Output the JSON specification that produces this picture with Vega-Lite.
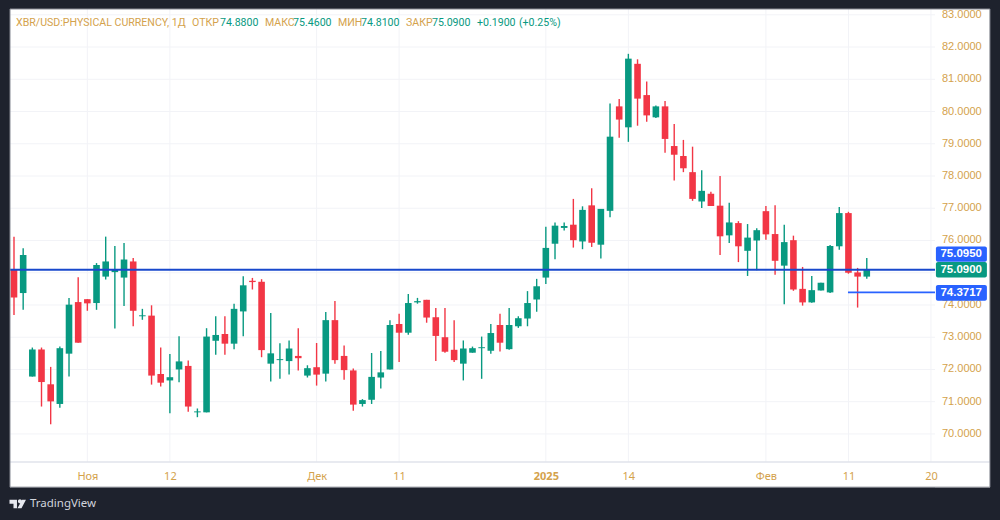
{
  "$schema": "https://vega.github.io/schema/vega-lite/v6.json",
  "width": 925,
  "height": 453,
  "autosize": "none",
  "padding": {"left": 10, "top": 9, "right": 65, "bottom": 58},
  "background": "#1e222d",
  "config": {
    "view": {"fill": "#ffffff", "stroke": null},
    "text": {"font": "Roboto", "fontSize": 10.6}
  },
  "datasets": {
    "candles": [
      {"bar":0,"open":75.09,"high":76.12,"low":73.69,"close":74.23},
      {"bar":1,"open":74.37,"high":75.76,"low":73.85,"close":75.55},
      {"bar":2,"open":71.78,"high":72.68,"low":71.78,"close":72.62},
      {"bar":3,"open":72.62,"high":72.68,"low":70.85,"close":71.61},
      {"bar":4,"open":71.54,"high":72.08,"low":70.30,"close":71.01},
      {"bar":5,"open":70.93,"high":72.71,"low":70.81,"close":72.66},
      {"bar":6,"open":72.49,"high":74.22,"low":71.78,"close":74.01},
      {"bar":7,"open":74.09,"high":74.86,"low":72.83,"close":72.83},
      {"bar":8,"open":74.18,"high":74.18,"low":73.82,"close":74.05},
      {"bar":9,"open":74.06,"high":75.30,"low":73.85,"close":75.24},
      {"bar":10,"open":74.88,"high":76.12,"low":74.79,"close":75.35},
      {"bar":11,"open":75.02,"high":75.83,"low":73.27,"close":75.09},
      {"bar":12,"open":74.85,"high":75.92,"low":73.97,"close":75.41},
      {"bar":13,"open":75.35,"high":75.46,"low":73.34,"close":73.82},
      {"bar":14,"open":73.65,"high":73.88,"low":73.54,"close":73.68},
      {"bar":15,"open":73.67,"high":73.99,"low":71.53,"close":71.81},
      {"bar":16,"open":71.86,"high":72.68,"low":71.47,"close":71.59},
      {"bar":17,"open":71.66,"high":72.48,"low":70.64,"close":71.76},
      {"bar":18,"open":72.00,"high":73.03,"low":71.60,"close":72.25},
      {"bar":19,"open":72.11,"high":72.28,"low":70.69,"close":70.85},
      {"bar":20,"open":70.67,"high":70.79,"low":70.52,"close":70.70},
      {"bar":21,"open":70.67,"high":73.28,"low":70.67,"close":73.02},
      {"bar":22,"open":72.89,"high":73.65,"low":72.46,"close":73.07},
      {"bar":23,"open":73.10,"high":73.65,"low":72.46,"close":72.80},
      {"bar":24,"open":72.80,"high":74.04,"low":72.63,"close":73.88},
      {"bar":25,"open":73.80,"high":74.89,"low":73.03,"close":74.61},
      {"bar":26,"open":74.75,"high":74.84,"low":74.48,"close":74.71},
      {"bar":27,"open":74.72,"high":74.80,"low":72.38,"close":72.60},
      {"bar":28,"open":72.18,"high":73.75,"low":71.63,"close":72.50},
      {"bar":29,"open":72.29,"high":72.81,"low":71.71,"close":72.32},
      {"bar":30,"open":72.26,"high":72.90,"low":71.84,"close":72.65},
      {"bar":31,"open":72.42,"high":73.28,"low":71.97,"close":72.35},
      {"bar":32,"open":71.81,"high":72.13,"low":71.75,"close":72.04},
      {"bar":33,"open":72.07,"high":72.82,"low":71.50,"close":71.84},
      {"bar":34,"open":71.87,"high":73.78,"low":71.63,"close":73.53},
      {"bar":35,"open":73.53,"high":74.12,"low":72.18,"close":72.29},
      {"bar":36,"open":72.42,"high":72.74,"low":71.68,"close":71.98},
      {"bar":37,"open":71.97,"high":72.03,"low":70.72,"close":70.91},
      {"bar":38,"open":70.93,"high":71.08,"low":70.85,"close":71.05},
      {"bar":39,"open":71.06,"high":72.51,"low":70.93,"close":71.77},
      {"bar":40,"open":71.75,"high":72.57,"low":71.41,"close":71.91},
      {"bar":41,"open":72.00,"high":73.53,"low":72.00,"close":73.38},
      {"bar":42,"open":73.41,"high":73.73,"low":72.23,"close":73.14},
      {"bar":43,"open":73.14,"high":74.34,"low":73.08,"close":74.06},
      {"bar":44,"open":74.08,"high":74.22,"low":74.04,"close":74.12},
      {"bar":45,"open":74.16,"high":74.16,"low":73.45,"close":73.61},
      {"bar":46,"open":73.62,"high":73.91,"low":72.26,"close":73.04},
      {"bar":47,"open":73.00,"high":73.91,"low":72.52,"close":72.55},
      {"bar":48,"open":72.61,"high":73.53,"low":72.23,"close":72.29},
      {"bar":49,"open":72.18,"high":72.90,"low":71.66,"close":72.65},
      {"bar":50,"open":72.52,"high":72.71,"low":72.52,"close":72.66},
      {"bar":51,"open":72.66,"high":73.02,"low":71.71,"close":72.69},
      {"bar":52,"open":72.58,"high":73.41,"low":72.49,"close":73.13},
      {"bar":53,"open":73.38,"high":73.73,"low":72.56,"close":72.83},
      {"bar":54,"open":72.63,"high":73.91,"low":72.61,"close":73.38},
      {"bar":55,"open":73.34,"high":73.65,"low":73.29,"close":73.59},
      {"bar":56,"open":73.58,"high":74.43,"low":73.34,"close":74.06},
      {"bar":57,"open":74.17,"high":74.81,"low":73.79,"close":74.58},
      {"bar":58,"open":74.85,"high":76.43,"low":74.65,"close":75.77},
      {"bar":59,"open":75.90,"high":76.56,"low":75.42,"close":76.46},
      {"bar":60,"open":76.39,"high":76.56,"low":76.31,"close":76.45},
      {"bar":61,"open":76.49,"high":77.29,"low":75.78,"close":76.01},
      {"bar":62,"open":75.97,"high":77.06,"low":75.73,"close":76.95},
      {"bar":63,"open":77.09,"high":77.62,"low":75.80,"close":75.93},
      {"bar":64,"open":75.87,"high":76.98,"low":75.44,"close":76.98},
      {"bar":65,"open":76.92,"high":80.25,"low":76.72,"close":79.22},
      {"bar":66,"open":80.16,"high":80.39,"low":79.19,"close":79.75},
      {"bar":67,"open":79.51,"high":81.79,"low":79.06,"close":81.64},
      {"bar":68,"open":81.48,"high":81.62,"low":79.56,"close":80.40},
      {"bar":69,"open":80.51,"high":80.93,"low":79.68,"close":79.88},
      {"bar":70,"open":79.82,"high":80.19,"low":79.80,"close":80.16},
      {"bar":71,"open":80.16,"high":80.33,"low":78.72,"close":79.15},
      {"bar":72,"open":78.93,"high":79.61,"low":77.86,"close":78.66},
      {"bar":73,"open":78.62,"high":79.12,"low":78.12,"close":78.24},
      {"bar":74,"open":78.12,"high":78.91,"low":77.23,"close":77.29},
      {"bar":75,"open":77.21,"high":78.18,"low":77.01,"close":77.54},
      {"bar":76,"open":77.45,"high":77.51,"low":77.07,"close":77.07},
      {"bar":77,"open":77.08,"high":78.00,"low":75.55,"close":76.13},
      {"bar":78,"open":76.16,"high":77.17,"low":75.92,"close":76.56},
      {"bar":79,"open":76.54,"high":76.60,"low":75.33,"close":75.82},
      {"bar":80,"open":75.68,"high":76.51,"low":74.90,"close":76.09},
      {"bar":81,"open":76.00,"high":76.38,"low":75.08,"close":76.32},
      {"bar":82,"open":76.91,"high":77.07,"low":76.02,"close":76.19},
      {"bar":83,"open":76.20,"high":77.09,"low":74.94,"close":75.37},
      {"bar":84,"open":75.22,"high":76.49,"low":74.02,"close":75.95},
      {"bar":85,"open":76.01,"high":76.15,"low":74.44,"close":74.48},
      {"bar":86,"open":74.50,"high":75.18,"low":73.98,"close":74.08},
      {"bar":87,"open":74.08,"high":74.90,"low":74.07,"close":74.46},
      {"bar":88,"open":74.45,"high":74.69,"low":74.45,"close":74.69},
      {"bar":89,"open":74.39,"high":75.86,"low":74.37,"close":75.83},
      {"bar":90,"open":75.82,"high":77.04,"low":75.71,"close":76.85},
      {"bar":91,"open":76.85,"high":76.89,"low":74.97,"close":75.00},
      {"bar":92,"open":75.01,"high":75.15,"low":73.92,"close":74.88},
      {"bar":93,"open":74.88,"high":75.46,"low":74.81,"close":75.09}
    ],
    "one": [{}],
    "dateGrid": [{"bar":8},{"bar":17},{"bar":33},{"bar":42},{"bar":58},{"bar":67},{"bar":82},{"bar":91},{"bar":100}],
    "priceGrid": [{"price":70},{"price":71},{"price":72},{"price":73},{"price":74},{"price":75},{"price":76},{"price":77},{"price":78},{"price":79},{"price":80},{"price":81},{"price":82},{"price":83}]
  },
  "layer": [
    {
      "data": {"name": "one"},
      "mark": {"type": "rect", "fill": "#ffffff"},
      "encoding": {
        "x": {
          "datum": 100.44,
          "type": "quantitative",
          "scale": {"domain": [-0.436, 100.44], "nice": false, "zero": false, "padding": 0},
          "axis": {
            "orient": "bottom",
            "title": null,
            "values": [8, 17, 33, 42, 58, 67, 82, 91, 100],
            "labelExpr": "{'8':'Ноя','17':'12','33':'Дек','42':'11','58':'2025','67':'14','82':'Фев','91':'11','100':'20'}[datum.value]",
            "labelColor": "#d4a24c",
            "labelFont": "Noto Sans",
            "labelFontSize": 11,
            "labelFontWeight": {"condition": {"test": "datum.value == 58", "value": "bold"}, "value": "normal"},
            "labelPadding": 8,
            "labelFlush": false,
            "labelOverlap": false,
            "ticks": false,
            "domain": false,
            "grid": false,
            "zindex": 1
          }
        },
        "x2": {"datum": 106.43},
        "y": {
          "datum": 83.18,
          "type": "quantitative",
          "scale": {"domain": [69.13, 83.18], "nice": false, "zero": false},
          "axis": {"orient": "right", "title": null, "labels": false, "ticks": false, "domain": false, "grid": false}
        },
        "y2": {"datum": 68.35}
      }
    },
    {
      "data": {"name": "one"},
      "mark": {"type": "rect", "fill": "#ffffff"},
      "encoding": {
        "x": {"datum": -0.436},
        "x2": {"datum": 106.43},
        "y": {"datum": 69.13},
        "y2": {"datum": 68.35}
      }
    },
    {
      "data": {"name": "dateGrid"},
      "mark": {"type": "rule", "color": "#f2f3f7", "size": 1},
      "encoding": {"x": {"field": "bar", "type": "quantitative"}}
    },
    {
      "data": {"name": "priceGrid"},
      "mark": {"type": "rule", "color": "#f2f3f7", "size": 1},
      "encoding": {"y": {"field": "price", "type": "quantitative"}}
    },
    {
      "data": {"name": "priceGrid"},
      "transform": [{"filter": "datum.price != 75"}],
      "mark": {"type": "text", "align": "left", "color": "#d4a24c", "font": "Liberation Sans", "fontSize": 11},
      "encoding": {
        "x": {"datum": 101.2},
        "y": {"field": "price", "type": "quantitative"},
        "text": {"field": "price", "type": "quantitative", "format": ".4f"}
      }
    },
    {
      "data": {"name": "one"},
      "mark": {"type": "rule", "color": "#e0e3eb", "size": 1.5},
      "encoding": {
        "x": {"datum": -0.436},
        "x2": {"datum": 106.43},
        "y": {"datum": 69.13}
      }
    },
    {
      "data": {"name": "candles"},
      "mark": {"type": "rule", "size": 1.4},
      "encoding": {
        "x": {"field": "bar", "type": "quantitative"},
        "y": {"field": "low", "type": "quantitative"},
        "y2": {"field": "high"},
        "color": {"condition": {"test": "datum.close >= datum.open", "value": "#089981"}, "value": "#f23645"}
      }
    },
    {
      "data": {"name": "candles"},
      "mark": {"type": "bar", "orient": "vertical", "size": 6.6},
      "encoding": {
        "x": {"field": "bar", "type": "quantitative"},
        "y": {"field": "open", "type": "quantitative"},
        "y2": {"field": "close"},
        "color": {"condition": {"test": "datum.close >= datum.open", "value": "#089981"}, "value": "#f23645"}
      }
    },
    {
      "data": {"name": "one"},
      "mark": {"type": "rule", "color": "#1848cc", "size": 2},
      "encoding": {
        "x": {"datum": -0.436},
        "x2": {"datum": 100.44},
        "y": {"datum": 75.09}
      }
    },
    {
      "data": {"name": "one"},
      "mark": {"type": "rule", "color": "#2962ff", "size": 1.6},
      "encoding": {
        "x": {"datum": 90.95},
        "x2": {"datum": 100.44},
        "y": {"datum": 74.39}
      }
    },
    {
      "data": {"name": "one"},
      "layer": [
        {
          "mark": {"type": "rect", "fill": "#2962ff", "cornerRadius": 2},
          "encoding": {"x": {"datum": 100.54}, "x2": {"datum": 106.1}, "y": {"datum": 75.81}, "y2": {"datum": 75.34}}
        },
        {
          "mark": {"type": "text", "text": "75.0950", "color": "#ffffff", "font": "Liberation Sans", "fontSize": 11.5, "fontWeight": "bold"},
          "encoding": {"x": {"datum": 103.3}, "y": {"datum": 75.575}}
        },
        {
          "mark": {"type": "rect", "fill": "#089981", "cornerRadius": 2},
          "encoding": {"x": {"datum": 100.54}, "x2": {"datum": 106.1}, "y": {"datum": 75.33}, "y2": {"datum": 74.85}}
        },
        {
          "mark": {"type": "text", "text": "75.0900", "color": "#ffffff", "font": "Liberation Sans", "fontSize": 11.5, "fontWeight": "bold"},
          "encoding": {"x": {"datum": 103.3}, "y": {"datum": 75.09}}
        },
        {
          "mark": {"type": "rect", "fill": "#2962ff", "cornerRadius": 2},
          "encoding": {"x": {"datum": 100.54}, "x2": {"datum": 106.1}, "y": {"datum": 74.62}, "y2": {"datum": 74.13}}
        },
        {
          "mark": {"type": "text", "text": "74.3717", "color": "#ffffff", "font": "Liberation Sans", "fontSize": 11.5, "fontWeight": "bold"},
          "encoding": {"x": {"datum": 103.3}, "y": {"datum": 74.375}}
        }
      ]
    },
    {
      "data": {"name": "one"},
      "encoding": {"y": {"datum": 82.75}},
      "layer": [
        {"mark": {"type": "text", "align": "left", "color": "#d4a24c", "text": "XBR/USD:PHYSICAL CURRENCY, 1Д"}, "encoding": {"x": {"datum": 0.22}}},
        {"mark": {"type": "text", "align": "left", "color": "#d4a24c", "text": "ОТКР"}, "encoding": {"x": {"datum": 19.41}}},
        {"mark": {"type": "text", "align": "left", "color": "#089981", "text": "74.8800"}, "encoding": {"x": {"datum": 22.46}}},
        {"mark": {"type": "text", "align": "left", "color": "#d4a24c", "text": "МАКС"}, "encoding": {"x": {"datum": 27.37}}},
        {"mark": {"type": "text", "align": "left", "color": "#089981", "text": "75.4600"}, "encoding": {"x": {"datum": 30.43}}},
        {"mark": {"type": "text", "align": "left", "color": "#d4a24c", "text": "МИН"}, "encoding": {"x": {"datum": 35.33}}},
        {"mark": {"type": "text", "align": "left", "color": "#089981", "text": "74.8100"}, "encoding": {"x": {"datum": 37.84}}},
        {"mark": {"type": "text", "align": "left", "color": "#d4a24c", "text": "ЗАКР"}, "encoding": {"x": {"datum": 42.75}}},
        {"mark": {"type": "text", "align": "left", "color": "#089981", "text": "75.0900"}, "encoding": {"x": {"datum": 45.58}}},
        {"mark": {"type": "text", "align": "left", "color": "#089981", "text": "+0.1900"}, "encoding": {"x": {"datum": 50.49}}},
        {"mark": {"type": "text", "align": "left", "color": "#089981", "text": "(+0.25%)"}, "encoding": {"x": {"datum": 55.07}}}
      ]
    },
    {
      "data": {"name": "one"},
      "mark": {"type": "rect", "fill": null, "stroke": "#868993", "strokeWidth": 1},
      "encoding": {
        "x": {"datum": -0.436},
        "x2": {"datum": 106.43},
        "y": {"datum": 83.18},
        "y2": {"datum": 68.35}
      }
    },
    {
      "data": {"name": "one"},
      "mark": {
        "type": "point",
        "filled": true,
        "color": "#e6e8ee",
        "opacity": 1,
        "size": 289,
        "shape": "M-0.94,-0.5 L-0.06,-0.5 L-0.06,0.5 L-0.47,0.5 L-0.47,-0.03 L-0.94,-0.03 Z M0.05,-0.32 A0.24,0.24 0 1 1 0.53,-0.32 A0.24,0.24 0 1 1 0.05,-0.32 Z M0.55,-0.5 L1,-0.5 L0.47,0.5 L0,0.5 Z"
      },
      "encoding": {"x": {"datum": 0.38}, "y": {"datum": 67.83}}
    },
    {
      "data": {"name": "one"},
      "mark": {"type": "text", "text": "TradingView", "align": "left", "color": "#d1d4dc", "font": "Noto Sans", "fontSize": 11.5},
      "encoding": {"x": {"datum": 1.74}, "y": {"datum": 67.83}}
    }
  ]
}
